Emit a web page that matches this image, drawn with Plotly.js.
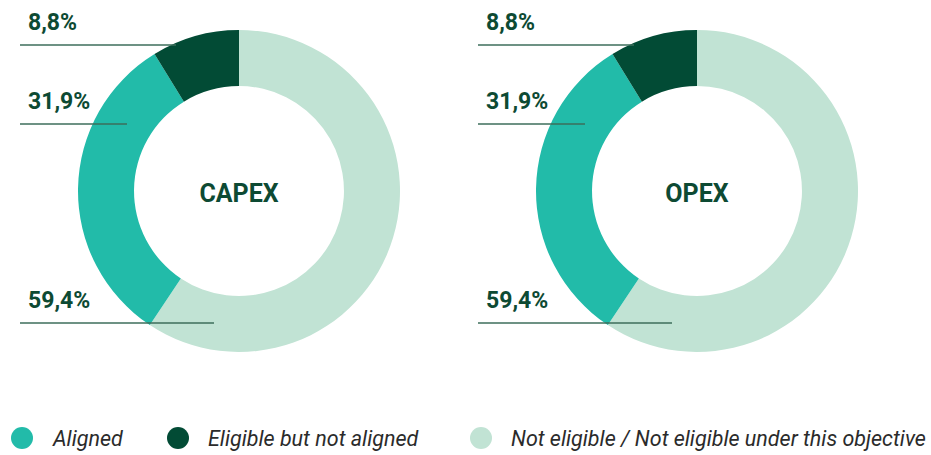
<!DOCTYPE html>
<html>
<head>
<meta charset="utf-8">
<script src="https://cdn.plot.ly/plotly-3.0.1.min.js"></script>
<style>html,body{margin:0;padding:0;background:#fff;}#chart{width:931px;height:455px;}</style>
</head>
<body>
<div id="chart"></div>
<script>
// ---- data ----
const categories = ["Not eligible / Not eligible under this objective", "Aligned", "Eligible but not aligned"];
const capexValues = [59.4, 31.9, 8.8];
const opexValues = [59.4, 31.9, 8.8];
const chartTitles = ["CAPEX", "OPEX"];
const legendOrder = ["Aligned", "Eligible but not aligned", "Not eligible / Not eligible under this objective"];

// ---- style ----
const colorMap = {
  "Eligible but not aligned": "#024B35",
  "Aligned": "#22BBA9",
  "Not eligible / Not eligible under this objective": "#C1E3D4"
};
const W = 931, H = 455;
const px = x => x / W;
const py = y => 1 - y / H;
const textGreen = "#0D4A33";
const lineColor = "#3C6E5B";

function fmt(v) { return v.toFixed(1).replace(".", ",") + "%"; }

const centers = [239, 697];
const cy = 191, R = 161;

function pieTrace(values, title, cx) {
  return {
    type: "pie",
    values: values,
    labels: categories,
    sort: false,
    direction: "clockwise",
    rotation: 0,
    hole: 0.652,
    textinfo: "none",
    hoverinfo: "label+percent",
    showlegend: false,
    marker: { colors: categories.map(c => colorMap[c]), line: { width: 0 } },
    title: { text: title, position: "middle center", font: { family: "Roboto", size: 25, color: textGreen, weight: 700 } },
    domain: { x: [px(cx - R), px(cx + R)], y: [py(cy + R), py(cy - R)] }
  };
}

const data = [
  pieTrace(capexValues, chartTitles[0], centers[0]),
  pieTrace(opexValues, chartTitles[1], centers[1])
];

// leader label layout (pixel positions) per category
const labelPos = {
  "Eligible but not aligned": { ty: 22, ly: 45, lx1: -63 },
  "Aligned": { ty: 102, ly: 124, lx1: -112 },
  "Not eligible / Not eligible under this objective": { ty: 300, ly: 323, lx1: -25 }
};
const lineStarts = [20, 478];

const annotations = [];
const shapes = [];
[capexValues, opexValues].forEach((vals, k) => {
  const cx = centers[k];
  vals.forEach((v, i) => {
    const p = labelPos[categories[i]];
    annotations.push({
      xref: "paper", yref: "paper", x: px(lineStarts[k] + 6), y: py(p.ty),
      xanchor: "left", yanchor: "middle", showarrow: false,
      text: "<b>" + fmt(v) + "</b>",
      font: { family: "Roboto", size: 23, color: textGreen }
    });
    shapes.push({
      type: "line", xref: "paper", yref: "paper", layer: "above",
      x0: px(lineStarts[k]), x1: px(cx + p.lx1), y0: py(p.ly), y1: py(p.ly),
      line: { color: lineColor, width: 1.3 }
    });
  });
});

// legend built from circles + italic text
const legendX = [22, 178, 481];
const legendY = 438;
legendOrder.forEach((name, i) => {
  shapes.push({
    type: "circle", xref: "paper", yref: "paper", xsizemode: "pixel", ysizemode: "pixel",
    xanchor: px(legendX[i]), yanchor: py(legendY),
    x0: -11, x1: 11, y0: -11, y1: 11,
    fillcolor: colorMap[name], line: { width: 0 }
  });
  annotations.push({
    xref: "paper", yref: "paper", x: px(legendX[i] + 28), y: py(legendY),
    xanchor: "left", yanchor: "middle", showarrow: false,
    text: name,
    font: { family: "Roboto", size: 21.5, color: "#2B2B2B", style: "italic" }
  });
});

const layout = {
  width: W, height: H,
  margin: { l: 0, r: 0, t: 0, b: 0 },
  paper_bgcolor: "#ffffff",
  plot_bgcolor: "#ffffff",
  showlegend: false,
  annotations: annotations,
  shapes: shapes
};

Plotly.newPlot("chart", data, layout, { displayModeBar: false });
</script>
</body>
</html>
